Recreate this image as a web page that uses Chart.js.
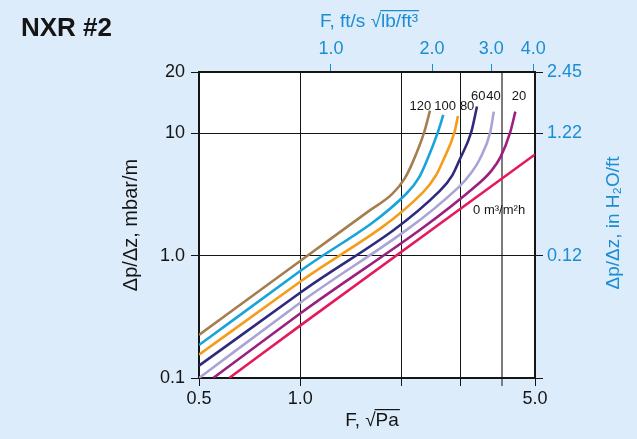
<!DOCTYPE html>
<html>
<head>
<meta charset="utf-8">
<script src="https://cdn.jsdelivr.net/npm/chart.js@4/dist/chart.umd.min.js"></script>
<style>
html,body{margin:0;padding:0;background:#dcecfa;}
canvas{display:block;}
</style>
</head>
<body>
<canvas id="c" width="637" height="439"></canvas>
<script>
// ---------- data ----------
const chartTitle = 'NXR #2';
const xTicks = [0.5, 1, 2, 3, 4, 5];
const xTickLabels = ['0.5', '1.0', '', '', '', '5.0'];
const yTicks = [0.1, 1, 10, 31.62];
const yTickLabels = ['0.1', '1.0', '10', '20'];
const yRightLabels = ['', '0.12', '1.22', '2.45'];
const topTicks = [1, 2, 3, 4];
const topTickLabels = ['1.0', '2.0', '3.0', '4.0'];

const seriesNames = ['0 m³/m²h', '20', '40', '60', '80', '100', '120'];

const q0F = [0.615, 1.0, 5.0];
const q0P = [0.1, 0.268, 6.7];
const q20F = [0.551, 1.0, 3.4, 3.7, 3.95, 4.22, 4.37];
const q20P = [0.1, 0.336, 3.88, 4.9, 6.4, 10.2, 15.0];
const q40F = [0.5, 1.0, 2.96, 3.23, 3.42, 3.68, 3.77];
const q40P = [0.1, 0.412, 3.61, 4.75, 6.1, 10.2, 15.0];
const q60F = [0.5, 1.0, 2.6, 2.84, 2.98, 3.23, 3.36];
const q60P = [0.126, 0.497, 3.36, 4.55, 6.04, 10.2, 16.5];
const q80F = [0.5, 1.0, 2.32, 2.53, 2.66, 2.88, 2.948];
const q80P = [0.155, 0.612, 3.29, 4.47, 5.93, 10.2, 13.8];
const q100F = [0.5, 1.0, 2.07, 2.26, 2.37, 2.57, 2.667];
const q100P = [0.186, 0.748, 3.2, 4.35, 5.75, 10.2, 14.1];
const q120F = [0.5, 1.0, 1.6, 1.88, 2.05, 2.16, 2.34, 2.435];
const q120P = [0.225, 0.903, 2.31, 3.19, 4.3, 5.75, 10.2, 15.3];

// ---------- styles ----------
const BG = '#dcecfa';
const BLUE = '#1b8dd3';
const INK = '#151515';
const FONT = "'Liberation Sans', Arial, Helvetica, sans-serif";
const seriesColors = ['#e5195e', '#9b2080', '#a9a4d6', '#2e2a7e', '#f49c1c', '#17a3dc', '#a57d4e'];

// label anchors (data space) for series annotations
const labelAnchors = [
  {text: seriesNames[0], F: 3.91, P: 2.36},
  {text: seriesNames[1], F: 4.48, P: 20.1},
  {text: seriesNames[2], F: 3.76, P: 20.1},
  {text: seriesNames[3], F: 3.39, P: 20.1},
  {text: seriesNames[4], F: 3.14, P: 16.7},
  {text: seriesNames[5], F: 2.70, P: 16.7},
  {text: seriesNames[6], F: 2.279, P: 16.7}
];

const pts = (F, P) => F.map((f, i) => ({x: f, y: P[i]}));
const seriesData = [
  pts(q0F, q0P), pts(q20F, q20P), pts(q40F, q40P), pts(q60F, q60P),
  pts(q80F, q80P), pts(q100F, q100P), pts(q120F, q120P)
];

function overlinedText(ctx, before, over, cx, cy, font, color, size) {
  ctx.font = font;
  ctx.fillStyle = color;
  ctx.strokeStyle = color;
  ctx.textAlign = 'left';
  ctx.textBaseline = 'middle';
  const w1 = ctx.measureText(before).width;
  const w2 = ctx.measureText(over).width;
  const x0 = cx - (w1 + w2) / 2;
  ctx.fillText(before, x0, cy);
  ctx.fillText(over, x0 + w1, cy);
  ctx.lineWidth = 1.2;
  ctx.beginPath();
  const oy = cy - size * 0.6;
  ctx.moveTo(x0 + w1 - 1, oy);
  ctx.lineTo(x0 + w1 + w2 + 1, oy);
  ctx.stroke();
}

const decor = {
  id: 'decor',
  beforeDraw(chart) {
    const {ctx, chartArea: a} = chart;
    ctx.save();
    ctx.fillStyle = BG;
    ctx.fillRect(0, 0, chart.width, chart.height);
    ctx.fillStyle = '#ffffff';
    ctx.fillRect(a.left, a.top, a.right - a.left, a.bottom - a.top);
    ctx.restore();
  },
  afterDraw(chart) {
    const {ctx, chartArea: a, scales} = chart;
    const mid = (a.left + a.right) / 2;
    const vmid = (a.top + a.bottom) / 2;
    ctx.save();
    // chart title
    ctx.font = "bold 26px " + FONT;
    ctx.fillStyle = INK;
    ctx.textAlign = 'left';
    ctx.textBaseline = 'alphabetic';
    ctx.fillText(chartTitle, 21, 35.5);

    // top axis title
    overlinedText(ctx, 'F, ft/s √', 'lb/ft³', mid + 2, 22, "19px " + FONT, BLUE, 19);
    // bottom axis title
    overlinedText(ctx, 'F, √', 'Pa', mid + 5, 421, "19px " + FONT, INK, 19);

    // left axis title
    ctx.save();
    ctx.translate(131.5, vmid);
    ctx.rotate(-Math.PI / 2);
    ctx.font = "20px " + FONT;
    ctx.fillStyle = INK;
    ctx.textAlign = 'center';
    ctx.textBaseline = 'middle';
    ctx.fillText('Δp/Δz, mbar/m', 0, 0);
    ctx.restore();

    // right axis title
    ctx.save();
    ctx.translate(614, vmid - 2);
    ctx.rotate(-Math.PI / 2);
    ctx.font = "19px " + FONT;
    ctx.fillStyle = BLUE;
    ctx.textAlign = 'center';
    ctx.textBaseline = 'middle';
    ctx.fillText('Δp/Δz, in H₂O/ft', 0, 0);
    ctx.restore();

    // series labels
    ctx.font = "13px " + FONT;
    ctx.fillStyle = INK;
    ctx.textAlign = 'center';
    ctx.textBaseline = 'middle';
    labelAnchors.forEach(l => {
      const x = scales.x.getPixelForValue(l.F);
      const y = scales.y.getPixelForValue(l.P);
      ctx.fillText(l.text, x, y);
    });
    ctx.restore();
  }
};

const tickFont = {size: 18, family: FONT};

new Chart(document.getElementById('c'), {
  type: 'line',
  data: {
    datasets: seriesData.map((d, i) => ({
      label: seriesNames[i],
      data: d,
      borderColor: seriesColors[i],
      backgroundColor: seriesColors[i],
      borderWidth: 2.6,
      pointRadius: 0,
      fill: false,
      cubicInterpolationMode: 'monotone',
      xAxisID: 'x',
      yAxisID: 'y'
    }))
  },
  options: {
    responsive: false,
    animation: false,
    devicePixelRatio: 1,
    layout: {padding: 0},
    plugins: {legend: {display: false}, tooltip: {enabled: false}, title: {display: false}},
    scales: {
      x: {
        type: 'logarithmic', position: 'bottom', min: 0.5, max: 5,
        afterBuildTicks: s => { s.ticks = xTicks.map(v => ({value: v})); },
        afterFit: s => { s.height = 61; },
        ticks: {callback: (v, i) => xTickLabels[i], color: INK, font: tickFont, padding: 2, maxRotation: 0, autoSkip: false},
        grid: {
          color: c => (c.tick && c.tick.value === 4) ? '#7c7c7c' : INK,
          lineWidth: c => (c.tick && c.tick.value === 4) ? 2 : 1,
          tickLength: 8
        },
        border: {color: INK, width: 2}
      },
      x2: {
        type: 'logarithmic', position: 'top', min: 0.405, max: 4.05,
        afterBuildTicks: s => { s.ticks = topTicks.map(v => ({value: v})); },
        afterFit: s => { s.height = 72; },
        ticks: {callback: (v, i) => topTickLabels[i], color: BLUE, font: tickFont, padding: 4, maxRotation: 0, autoSkip: false},
        grid: {drawOnChartArea: false, color: BLUE, tickLength: 8},
        border: {color: INK, width: 2}
      },
      y: {
        type: 'logarithmic', position: 'left', min: 0.1, max: 31.62,
        afterBuildTicks: s => { s.ticks = yTicks.map(v => ({value: v})); },
        afterFit: s => { s.width = 199; },
        ticks: {callback: (v, i) => yTickLabels[i], color: INK, font: tickFont, padding: 6, autoSkip: false},
        grid: {color: INK, lineWidth: 1, tickLength: 8},
        border: {color: INK, width: 2}
      },
      y2: {
        type: 'logarithmic', position: 'right', min: 0.1, max: 31.62,
        afterBuildTicks: s => { s.ticks = yTicks.map(v => ({value: v})); },
        afterFit: s => { s.width = 102; },
        ticks: {callback: (v, i) => yRightLabels[i], color: BLUE, font: tickFont, padding: 4, autoSkip: false},
        grid: {drawOnChartArea: false, color: INK, tickLength: 8},
        border: {color: INK, width: 2}
      }
    }
  },
  plugins: [decor]
});
</script>
</body>
</html>
